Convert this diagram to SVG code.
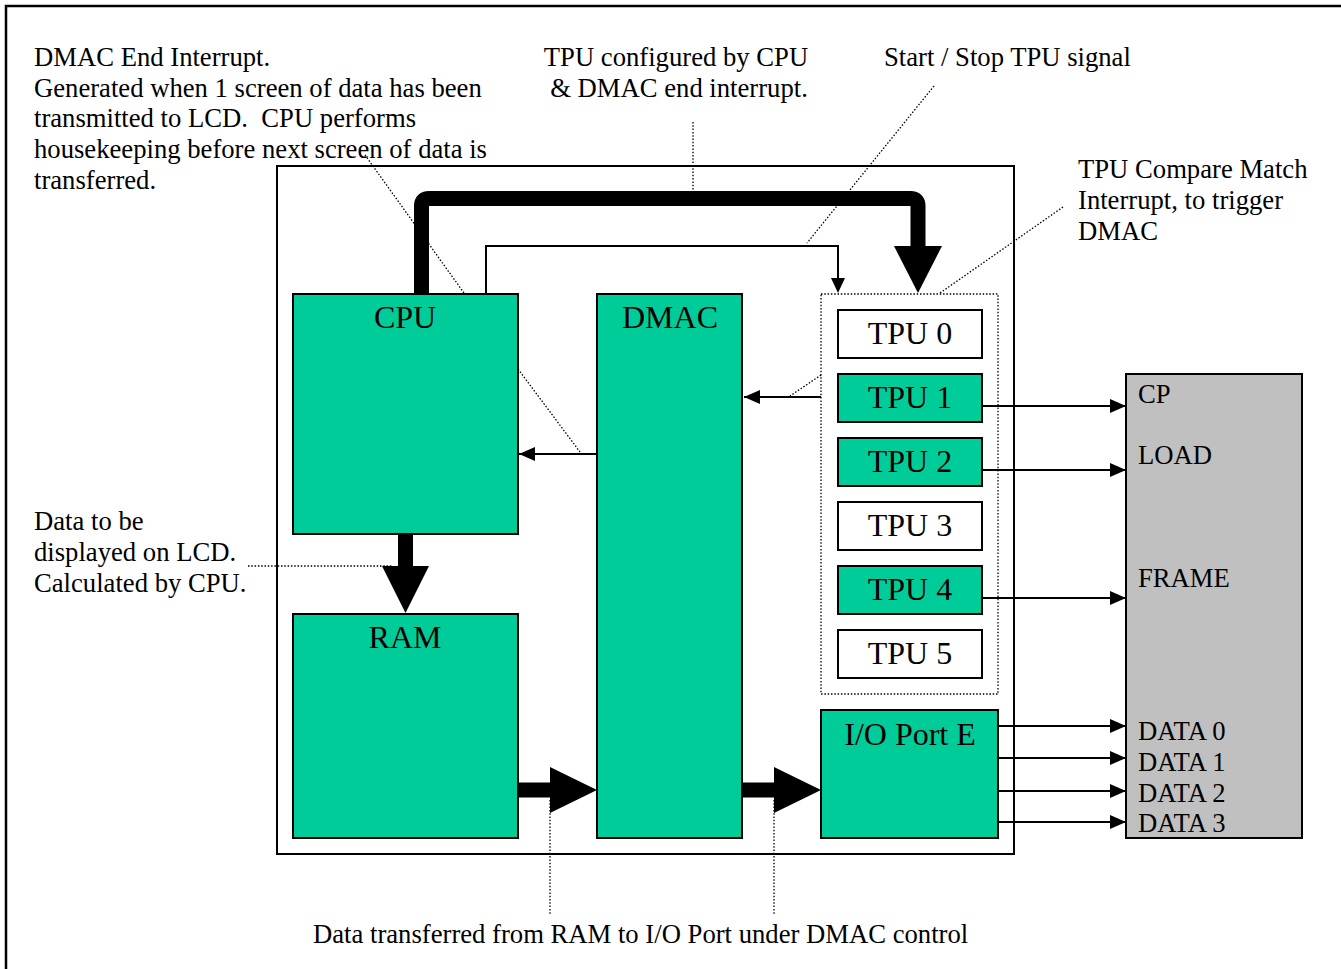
<svg xmlns="http://www.w3.org/2000/svg" width="1341" height="969" viewBox="0 0 1341 969">
<style>
text{font-family:"Liberation Serif","Times New Roman",serif;font-size:26.67px;fill:#000}
text.lbl{font-size:32px}
.blk{fill:#00CC99;stroke:#000;stroke-width:2}
.wht{fill:#fff;stroke:#000;stroke-width:2}
.thin{fill:none;stroke:#000;stroke-width:2}
.dot{fill:none;stroke:#000;stroke-width:1.3;stroke-dasharray:1.5 1.8}
.thick{fill:none;stroke:#000;stroke-width:15}
.c{text-anchor:middle}
</style>
<defs>
<marker id="ah" markerWidth="16" markerHeight="14" refX="16" refY="7" orient="auto" markerUnits="userSpaceOnUse">
<path d="M0,0 L16,7 L0,14 Z" fill="#000"/>
</marker>
</defs>
<rect x="6" y="6" width="1400" height="1000" fill="#fff" stroke="#000" stroke-width="2.5"/>
<g id="annotations">
<text x="34" y="66">DMAC End Interrupt.</text>
<text x="34" y="97">Generated when 1 screen of data has been</text>
<text x="34" y="127">transmitted to LCD.&#160; CPU performs</text>
<text x="34" y="158">housekeeping before next screen of data is</text>
<text x="34" y="189">transferred.</text>
<text x="676" y="66" class="c">TPU configured by CPU</text>
<text x="679" y="97" class="c">&amp; DMAC end interrupt.</text>
<text x="884" y="66">Start / Stop TPU signal</text>
<text x="1078" y="178">TPU Compare Match</text>
<text x="1078" y="209">Interrupt, to trigger</text>
<text x="1078" y="240">DMAC</text>
<text x="34" y="530">Data to be</text>
<text x="34" y="561">displayed on LCD.</text>
<text x="34" y="592">Calculated by CPU.</text>
<text x="313" y="943">Data transferred from RAM to I/O Port under DMAC control</text>
</g>
<g id="mcu">
<rect x="277" y="166" width="737" height="688" fill="#fff" stroke="#000" stroke-width="2"/>
</g>
<g id="cpu"><rect class="blk" x="293" y="294" width="225" height="240"/><text x="405" y="328" class="c lbl">CPU</text></g>
<g id="dmac"><rect class="blk" x="597" y="294" width="145" height="544"/><text x="670" y="328" class="c lbl">DMAC</text></g>
<g id="ram"><rect class="blk" x="293" y="614" width="225" height="224"/><text x="405" y="648" class="c lbl">RAM</text></g>
<g id="ioport"><rect class="blk" x="821" y="710" width="177" height="128"/><text x="910" y="745" class="c lbl">I/O Port E</text></g>
<g id="tpu"><rect class="dot" x="821" y="294" width="177" height="400"/></g>
<g id="tpu0"><rect class="wht" x="838" y="310" width="144" height="48"/><text x="910" y="344" class="c lbl">TPU 0</text></g>
<g id="tpu1"><rect class="blk" x="838" y="374" width="144" height="48"/><text x="910" y="408" class="c lbl">TPU 1</text></g>
<g id="tpu2"><rect class="blk" x="838" y="438" width="144" height="48"/><text x="910" y="472" class="c lbl">TPU 2</text></g>
<g id="tpu3"><rect class="wht" x="838" y="502" width="144" height="48"/><text x="910" y="536" class="c lbl">TPU 3</text></g>
<g id="tpu4"><rect class="blk" x="838" y="566" width="144" height="48"/><text x="910" y="600" class="c lbl">TPU 4</text></g>
<g id="tpu5"><rect class="wht" x="838" y="630" width="144" height="48"/><text x="910" y="664" class="c lbl">TPU 5</text></g>
<g id="lcd">
<rect x="1126" y="374" width="176" height="464" fill="#C0C0C0" stroke="#000" stroke-width="2"/>
<text x="1138" y="403">CP</text>
<text x="1138" y="464">LOAD</text>
<text x="1138" y="587">FRAME</text>
<text x="1138" y="740">DATA 0</text>
<text x="1138" y="771">DATA 1</text>
<text x="1138" y="802">DATA 2</text>
<text x="1138" y="832">DATA 3</text>
</g>
<g id="connectors">
<path class="dot" d="M365,155 L464,293"/>
<path class="dot" d="M518,369 L580,452"/>
<path class="dot" d="M693,122 L693,190"/>
<path class="dot" d="M934,86 L807,243"/>
<path class="dot" d="M1063,207 L940,293"/>
<path class="dot" d="M821,375 L790,396"/>
<path class="dot" d="M248,566 L392,566"/>
<path class="dot" d="M550,800 L550,915"/>
<path class="dot" d="M774,800 L774,915"/>
<path class="thick" d="M421.5,294 L421.5,206 Q421.5,198.5 429,198.5 L910.5,198.5 Q918,198.5 918,206 L918,248" stroke-linejoin="round"/>
<path d="M894,246 L942,246 L918,293 Z" fill="#000"/>
<path class="thin" d="M486,294 L486,246 L838,246 L838,280"/>
<path d="M831,278 L845,278 L838,293 Z" fill="#000"/>
<path class="thin" d="M821,397 L744,397" marker-end="url(#ah)"/>
<path class="thin" d="M597,454 L519,454" marker-end="url(#ah)"/>
<path class="thick" d="M405.5,534 L405.5,568"/>
<path d="M382,566 L429,566 L405.5,613 Z" fill="#000"/>
<path class="thick" d="M518,790 L552,790"/>
<path d="M550,767 L550,813 L597,790 Z" fill="#000"/>
<path class="thick" d="M742,790 L776,790"/>
<path d="M774,767 L774,813 L821,790 Z" fill="#000"/>
<path class="thin" d="M982,406 L1126,406" marker-end="url(#ah)"/>
<path class="thin" d="M982,470 L1126,470" marker-end="url(#ah)"/>
<path class="thin" d="M982,598 L1126,598" marker-end="url(#ah)"/>
<path class="thin" d="M998,726 L1126,726" marker-end="url(#ah)"/>
<path class="thin" d="M998,758 L1126,758" marker-end="url(#ah)"/>
<path class="thin" d="M998,791 L1126,791" marker-end="url(#ah)"/>
<path class="thin" d="M998,822 L1126,822" marker-end="url(#ah)"/>
</g>
</svg>
